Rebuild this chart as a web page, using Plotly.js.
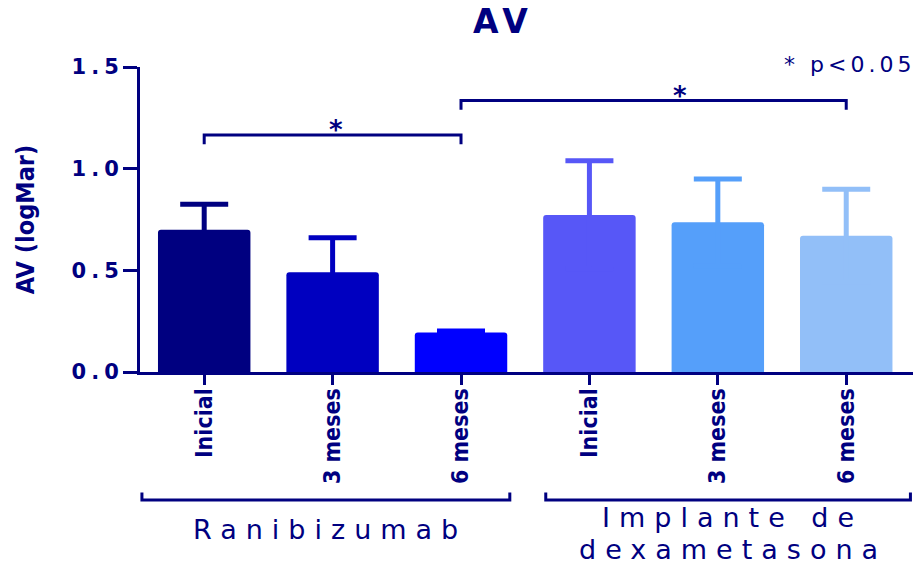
<!DOCTYPE html>
<html><head><meta charset="utf-8">
<script src="https://cdn.plot.ly/plotly-3.0.1.min.js"></script>
<style>html,body{margin:0;padding:0;background:#fff}#chart{width:917px;height:567px}</style>
</head><body><div id="chart"></div>
<script>
const categories = ['Inicial', '3 meses', '6 meses', 'Inicial', '3 meses', '6 meses'];
const groupNames = [['Ranibizumab'], ['Implante de', 'dexametasona']];
const groupMembers = [[0, 1, 2], [3, 4, 5]];
const meanValues = [0.70, 0.49, 0.194, 0.772, 0.736, 0.670];
const sdValues = [0.125, 0.17, 0.008, 0.267, 0.213, 0.229];
const barColors = ['#000080', '#0000C0', '#0000FF', '#5757F7', '#559FFA', '#92BFF8'];
const yTickValues = [0, 0.5, 1.0, 1.5];
const comparisons = [[0, 2], [2, 5]];
const comparisonLabels = ['*', '*'];
const comparisonHeights = [1.165, 1.335];
const noteText = '* p<0.05';

const NAVY = '#000080';
const WIDE = 'DejaVu Sans, Verdana, sans-serif';
const NARROW = 'DejaVu Sans Condensed, Liberation Sans Narrow, Liberation Sans, Arial, sans-serif';
const sp = (t, px) => `<span style="letter-spacing:${px}px">${t}</span>`;

const xIdx = categories.map((_, i) => i);
const traces = xIdx.map(i => ({
  type: 'bar', x: [i], y: [meanValues[i]], width: 0.72,
  marker: {color: barColors[i], line: {width: 0}, cornerradius: 3},
  error_y: {type: 'data', symmetric: true, array: [sdValues[i]],
            color: barColors[i], thickness: 5, width: 24},
  showlegend: false, hoverinfo: 'x+y'
}));

const shapes = [];
const annotations = [];
const leg = 0.045;
const starShift = [3, 26];
comparisons.forEach((c, k) => {
  const h = comparisonHeights[k];
  shapes.push({type: 'path', xref: 'x', yref: 'y',
    path: `M ${c[0]},${h - leg} L ${c[0]},${h} L ${c[1]},${h} L ${c[1]},${h - leg}`,
    line: {color: NAVY, width: 3}});
  annotations.push({xref: 'x', yref: 'y', x: (c[0] + c[1]) / 2, y: h, yanchor: 'bottom',
    yshift: -12, xshift: starShift[k], text: comparisonLabels[k], showarrow: false,
    font: {family: WIDE, size: 26, color: NAVY, weight: 'bold'}});
});

const bracketY = -0.42, bracketLeg = 0.025;
const groupPad = [[-0.485, 0.38], [-0.34, 0.5]];
const labelY = [[-0.515], [-0.478, -0.582]];
const groupSpacing = 9;
groupMembers.forEach((g, k) => {
  const x0 = g[0] + groupPad[k][0], x1 = g[g.length - 1] + groupPad[k][1];
  shapes.push({type: 'path', xref: 'x', yref: 'paper',
    path: `M ${x0},${bracketY + bracketLeg} L ${x0},${bracketY} L ${x1},${bracketY} L ${x1},${bracketY + bracketLeg}`,
    line: {color: NAVY, width: 3}});
  groupNames[k].forEach((line, j) => {
    annotations.push({xref: 'x', yref: 'paper', x: (x0 + x1) / 2, y: labelY[k][j],
      yanchor: 'middle', xshift: groupSpacing / 2, text: sp(line, groupSpacing), showarrow: false,
      font: {family: WIDE, size: 27, color: NAVY}});
  });
});

annotations.push({xref: 'paper', yref: 'paper', x: 1, y: 1, xanchor: 'right', yanchor: 'middle',
  yshift: 3, xshift: 4, text: sp(noteText, 4), showarrow: false,
  font: {family: WIDE, size: 22, color: NAVY}});

const layout = {
  width: 917, height: 567,
  margin: {l: 140, r: 4, t: 67, b: 195},
  paper_bgcolor: '#fff', plot_bgcolor: '#fff',
  title: {text: sp('AV', 6), x: 0.549, xref: 'container', xanchor: 'center',
          y: 0.963, yref: 'container', yanchor: 'middle',
          font: {family: WIDE, size: 33, color: NAVY, weight: 'bold'}},
  xaxis: {range: [-0.5, 5.52], tickmode: 'array', tickvals: xIdx, ticktext: categories,
          tickangle: -90, ticks: 'outside', ticklen: 10, tickwidth: 3, tickcolor: NAVY,
          ticklabelstandoff: -6,
          showline: true, linewidth: 3, linecolor: NAVY, showgrid: false, zeroline: false,
          tickfont: {family: NARROW, size: 23, color: NAVY, weight: 'bold', stretch: 'condensed'}},
  yaxis: {range: [0, 1.5], tickmode: 'array', tickvals: yTickValues,
          ticktext: yTickValues.map(v => sp(v.toFixed(1), 5)),
          ticks: 'outside', ticklen: 14, tickwidth: 3, tickcolor: NAVY,
          ticklabelstandoff: -5,
          showline: true, linewidth: 3, linecolor: NAVY, showgrid: false, zeroline: false,
          tickfont: {family: WIDE, size: 21, color: NAVY, weight: 'bold'},
          title: {text: 'AV (logMar)', standoff: 30,
                  font: {family: NARROW, size: 25, color: NAVY, weight: 'bold', stretch: 'condensed'}}},
  shapes: shapes, annotations: annotations, bargap: 0.2
};

Plotly.newPlot('chart', traces, layout, {displayModeBar: false, staticPlot: true});
</script></body></html>
